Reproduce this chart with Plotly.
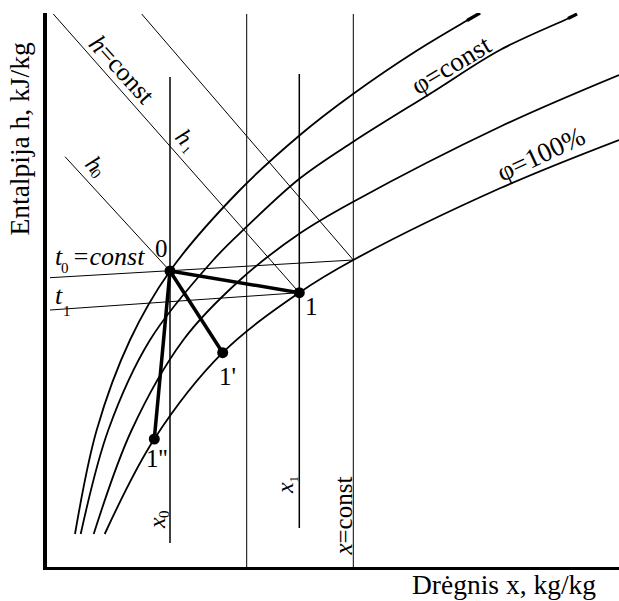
import plotly.graph_objects as go

# Sketch of an h-x (Mollier) diagram for moist air, schematic units.
# Lines of constant relative humidity (phi), from the lowest phi (top) down to phi = 100 %.
phi_a_x = [28, 49.7, 83, 123, 190, 253, 306, 370, 420, 433]
phi_a_h = [33, 137, 227, 296, 374, 432, 473, 516.5, 546.5, 554]
phi_b_x = [33.7, 61.3, 103, 166.3, 199.7, 253, 306.3, 386.3, 453, 521, 530]
phi_b_h = [33, 137, 227, 307, 340.3, 388.7, 425.3, 475.3, 517, 548.5, 553]
phi_c_x = [46.7, 84.7, 136.3, 193, 253, 306.3, 453, 572]
phi_c_h = [33, 137, 227, 287, 333.7, 365.3, 440.3, 492]
phi_100_x = [57.7, 107.3, 175.7, 252.3, 306.3, 453, 572]
phi_100_h = [33, 128, 214.3, 274.3, 307, 378.7, 427]

# Air states: 0 (initial), 1, 1', 1''
state_names = ["0", "1", "1'", "1''"]
state_x = [123, 252.3, 175.7, 107.3]
state_h = [296, 274.3, 214.3, 128]

# Lines of constant moisture content x (value, lower end, upper end)
xconst_x = [123, 199.7, 252.3, 306.3]
xconst_lo = [24, 0, 39, 0]
xconst_hi = [490, 553, 493, 553]

# Lines of constant enthalpy h (start and end points)
hconst_x0 = [18, 6.3, 94.7]
hconst_h0 = [410.3, 553, 553]
hconst_x1 = [123, 252.3, 306.3]
hconst_h1 = [296, 274.3, 307]

# Isotherms t0 and t1 (start and end points)
iso_x0 = [3, 3]
iso_h0 = [289.3, 257]
iso_x1 = [306.3, 252.3]
iso_h1 = [307, 274.3]

FONT = "Liberation Serif, Times New Roman, serif"
BLACK = "#000000"

fig = go.Figure()


def add_line(xs, ys, width, shape="linear"):
    fig.add_trace(go.Scatter(
        x=xs, y=ys, mode="lines",
        line=dict(color=BLACK, width=width, shape=shape),
        showlegend=False, hoverinfo="skip", cliponaxis=True,
    ))


# x = const verticals
for i, xv in enumerate(xconst_x):
    add_line([xv, xv], [xconst_lo[i], xconst_hi[i]], 1.5 if i in (0, 2) else 1.0)

# h = const diagonals
for i in range(len(hconst_x0)):
    add_line([hconst_x0[i], hconst_x1[i]], [hconst_h0[i], hconst_h1[i]], 1.0)

# isotherms
for i in range(len(iso_x0)):
    add_line([iso_x0[i], iso_x1[i]], [iso_h0[i], iso_h1[i]], 1.0)

# phi curves
for cx, ch in [(phi_a_x, phi_a_h), (phi_b_x, phi_b_h),
               (phi_c_x, phi_c_h), (phi_100_x, phi_100_h)]:
    add_line(cx, ch, 1.8, shape="spline")

# heavier tips at the upper ends of the two top curves
add_line(phi_a_x[-2:], phi_a_h[-2:], 3.2)
add_line(phi_b_x[-2:], phi_b_h[-2:], 3.2)

# process lines from state 0 to states 1, 1', 1''
for k in range(1, len(state_x)):
    add_line([state_x[0], state_x[k]], [state_h[0], state_h[k]], 3.5)

# state points
fig.add_trace(go.Scatter(
    x=state_x, y=state_h, mode="markers",
    marker=dict(color=BLACK, size=11),
    showlegend=False, hoverinfo="skip",
))


def label(x, y, text, size=26, angle=0, xanchor="center", ref="data", italic=False):
    kw = {}
    if ref == "paper":
        kw = dict(xref="paper", yref="paper")
    fig.add_annotation(
        x=x, y=y, text=text, showarrow=False, textangle=angle,
        xanchor=xanchor, yanchor="middle",
        font=dict(family=FONT, size=size, color=BLACK,
                  style="italic" if italic else "normal"),
        **kw,
    )


# state labels
label(114.5, 319, state_names[0], 25)
label(264, 261, state_names[1], 25)
label(180, 191, state_names[2], 25)
label(110, 109, state_names[3], 25)

# x = const labels (symbol italic, index as a small subscript)
label(110, 44, "x", 24, -90, italic=True)
label(117, 53, "0", 15, -90)
label(238, 79, "x", 24, -90, italic=True)
label(245.5, 88, "1", 13, -90)
label(296, 17.5, "x", 25, -90, italic=True)
label(296, 56.5, "=const", 25, -90)

# h = const labels
label(47, 403, "h", 24, 48, italic=True)
label(49, 393, "0", 15, 48)
label(137, 430, "h", 24, 48, italic=True)
label(139, 417, "1", 12, 48)
label(51.7, 522.9, "h", 26, 48, italic=True)
label(79.3, 492.2, "=const", 26, 48)

# phi labels
label(404, 502, "φ=const", 27, -31)
label(494, 413, "φ=100%", 27, -25)

# isotherm labels
label(6, 311, "t", 26, 0, xanchor="left", italic=True)
label(18, 299, "0", 15)
label(23, 311, "=const", 26, 0, xanchor="left", italic=True)
label(6, 272, "t", 26, 0, xanchor="left", italic=True)
label(20, 256, "1", 15)

# axis titles
label(-0.048, 0.7726, "Entalpija h, kJ/kg", 27.5, -90, ref="paper")
label(0.7998, -0.0312, "Drėgnis x, kg/kg", 27.5, ref="paper")

fig.update_layout(
    width=619, height=601,
    margin=dict(l=47, r=0, t=13, b=34),
    paper_bgcolor="white", plot_bgcolor="white",
    xaxis=dict(range=[0, 572], showgrid=False, zeroline=False,
               showticklabels=False, ticks="", showline=True,
               linecolor=BLACK, linewidth=3, fixedrange=True),
    yaxis=dict(range=[0, 554], showgrid=False, zeroline=False,
               showticklabels=False, ticks="", showline=True,
               linecolor=BLACK, linewidth=4, fixedrange=True),
)

fig.write_html("out.html")
